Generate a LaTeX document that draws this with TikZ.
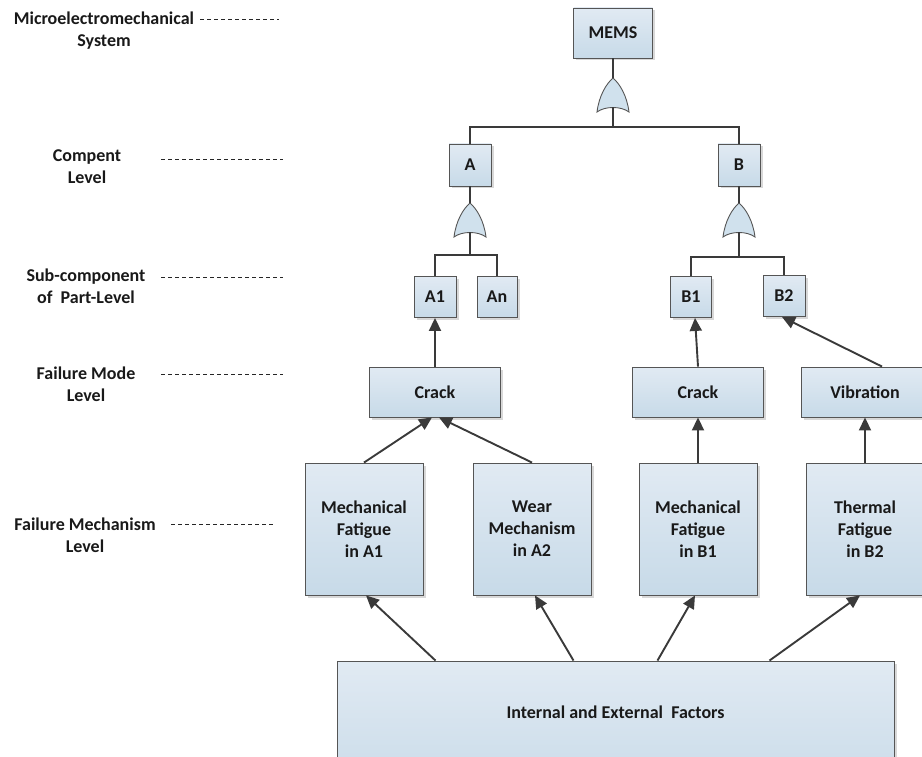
\documentclass[tikz,border=0pt]{standalone}
\usepackage{fontspec}
\setmainfont{Carlito}
\usetikzlibrary{arrows.meta,shadows}
\definecolor{boxtop}{HTML}{E1EAF3}
\definecolor{boxbot}{HTML}{C7DAE8}
\definecolor{edgec}{HTML}{555555}
\definecolor{wirec}{HTML}{3A3A3A}
\definecolor{gatec}{HTML}{D0E1ED}

\tikzset{
  every node/.style={font=\fontsize{18}{22}\selectfont\bfseries,text=black!90},
  box/.style={draw=edgec,line width=0.9pt,top color=boxtop,bottom color=boxbot,
    inner sep=0pt,align=center,
    drop shadow={shadow xshift=2.5pt,shadow yshift=-2.5pt,fill=black!30,opacity=0.5}},
  small/.style={box,minimum width=42pt,minimum height=41pt},
  mode/.style={box,minimum width=131pt,minimum height=50pt},
  mech/.style={box,minimum width=118pt,minimum height=132pt},
  levellabel/.style={align=center},
  levelline/.style={draw=black!85,line width=1pt,dash pattern=on 4pt off 3pt},
  wire/.style={draw=wirec,line width=1.9pt},
  flow/.style={wire,-{Triangle[length=13pt,width=12pt]}},
  orgate/.pic={
    \draw[draw=edgec,line width=0.9pt,fill=gatec]
      (0,0) .. controls (-7,6) and (-14,18) .. (-16,34)
      .. controls (-8,28) and (8,28) .. (16,34)
      .. controls (14,18) and (7,6) .. (0,0) -- cycle;
    \coordinate (-top) at (0,0);
    \coordinate (-bot) at (0,29.5);
  }
}

\begin{document}
\begin{tikzpicture}[x=1pt,y=-1pt]
      \useasboundingbox (0,0) rectangle (922,757);
      \clip (0,0) rectangle (922,757);

      % level labels
      \node [levellabel] (L1) at (104,31) {Microelectromechanical\\System};
      \node [levellabel] (L2) at (87,167) {Compent\\Level};
      \node [levellabel] (L3) at (86,286) {Sub-component\\of~ Part-Level};
      \node [levellabel] (L4) at (86,384) {Failure Mode\\Level};
      \node [levellabel] (L5) at (85,535) {Failure Mechanism\\Level};
      \foreach \n/\xa/\xb/\y in {1/200/279/20,2/161/283/160,3/161/283/277,4/161/283/374,5/171/273/524}{
        \coordinate (dl\n) at (\xa,\y);
        \coordinate (dr\n) at (\xb,\y);
        \draw [levelline] (dl\n) -- (dr\n);
      }

      % tree
      \node [box,minimum width=79pt,minimum height=50pt] (MEMS) at (613,33) {MEMS};
      \node [small,minimum height=42pt] (A) at (470,165) {A};
      \node [small,minimum height=42pt] (B) at (739,165) {B};
      \node [small] (A1) at (435,297) {A1};
      \node [small,minimum width=40pt] (An) at (497,297) {An};
      \node [small,minimum width=41pt] (B1) at (691,297) {B1};
      \node [small] (B2) at (784,296) {B2};

      \node [mode] (crackA) at (435,392) {Crack};
      \node [mode] (crackB) at (698,392) {Crack};
      \node [mode,minimum width=128pt] (vib) at (865,392) {Vibration};

      \node [mech] (mechA) at (364,529) {Mechanical\\Fatigue\\in A1};
      \node [mech] (wear) at (532,529) {Wear\\Mechanism\\in A2};
      \node [mech] (mechB) at (698,529) {Mechanical\\Fatigue\\in B1};
      \node [mech] (therm) at (865,529) {Thermal\\Fatigue\\in B2};

      \node [box,minimum width=557pt,minimum height=140pt,text depth=0pt] (factors) at (615.5,731) {};
      \node (factorstext) at (615.5,712) {Internal and External~ Factors};

      % gates
      \pic (g0) at (613,78) {orgate};
      \pic (gA) at (470,203) {orgate};
      \pic (gB) at (739,203) {orgate};
      \coordinate (j0) at (613,127);
      \coordinate (jA) at (470,255);
      \coordinate (jB) at (739,257);

      \draw [wire] (MEMS.south) -- (g0-top);
      \draw [wire] (g0-bot) -- (j0);
      \draw [wire] (A.north) |- (j0) -| (B.north);
      \draw [wire] (A.south) -- (gA-top);
      \draw [wire] (gA-bot) -- (jA);
      \draw [wire] (A1.north) |- (jA) -| (An.north);
      \draw [wire] (B.south) -- (gB-top);
      \draw [wire] (gB-bot) -- (jB);
      \draw [wire] (B1.north) |- (jB) -| (B2.north);

      % arrows
      \draw [flow] (crackA.north) -- (A1.south);
      \draw [flow] (crackB.north) -- ([xshift=4pt]B1.south);
      \draw [flow] ([xshift=17pt]vib.north) -- ([xshift=-2pt]B2.south);
      \draw [flow] (mechA.north) -- ([xshift=-3pt]crackA.south);
      \draw [flow] (wear.north) -- ([xshift=4pt]crackA.south);
      \draw [flow] (mechB.north) -- (crackB.south);
      \draw [flow] (therm.north) -- (vib.south);
      \foreach \dx/\to/\tx in {-180/mechA/2,-42/wear/3,42/mechB/-3,154/therm/-5}
        \draw [flow] ([xshift=\dx pt]factors.north) -- ([xshift=\tx pt]\to.south);
    \end{tikzpicture}
\end{document}
